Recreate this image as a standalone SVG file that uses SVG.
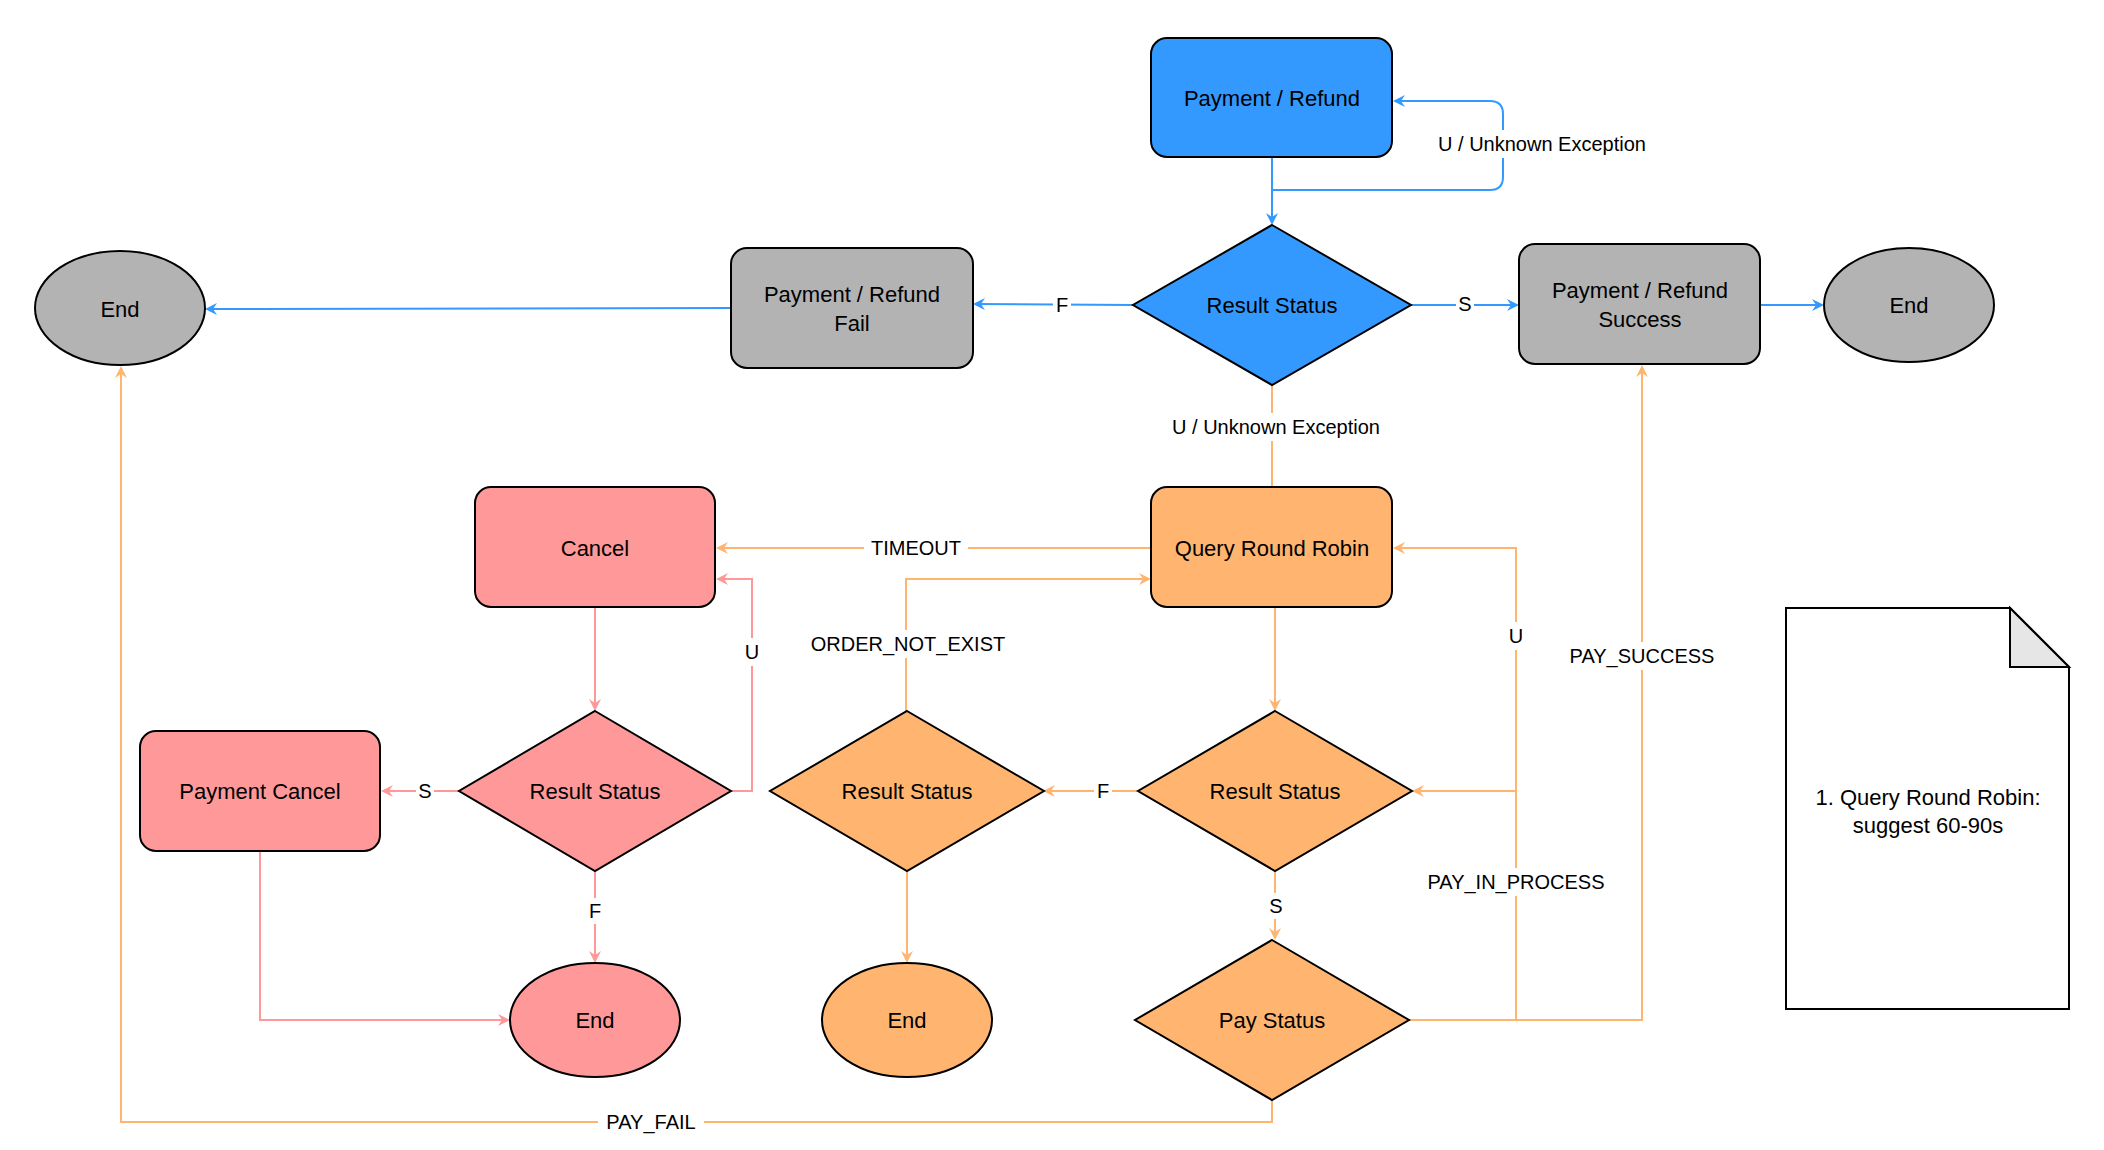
<svg xmlns="http://www.w3.org/2000/svg" width="2104" height="1150" viewBox="0 0 2104 1150">
<defs>
<marker id="ab" markerWidth="12" markerHeight="12" refX="10" refY="6" orient="auto" markerUnits="userSpaceOnUse"><path d="M0,0 L12,6 L0,12 L4,6 Z" fill="#3399FF"/></marker>
<marker id="ao" markerWidth="12" markerHeight="12" refX="10" refY="6" orient="auto" markerUnits="userSpaceOnUse"><path d="M0,0 L12,6 L0,12 L4,6 Z" fill="#FFB570"/></marker>
<marker id="ap" markerWidth="12" markerHeight="12" refX="10" refY="6" orient="auto" markerUnits="userSpaceOnUse"><path d="M0,0 L12,6 L0,12 L4,6 Z" fill="#FF9999"/></marker>
</defs>
<style>
text{font-family:"Liberation Sans",Arial,sans-serif;font-size:22px;fill:#000;text-anchor:middle;dominant-baseline:central}
.lbl{font-size:20px}
.n{stroke:#000;stroke-width:2}
.b{fill:#3399FF}.g{fill:#B3B3B3}.o{fill:#FFB570}.p{fill:#FF9999}
.lb{fill:none;stroke:#3399FF;stroke-width:2;marker-end:url(#ab)}
.lo{fill:none;stroke:#FFB570;stroke-width:2;marker-end:url(#ao)}
.lp{fill:none;stroke:#FF9999;stroke-width:2;marker-end:url(#ap)}
.bg{fill:#fff}
</style>
<rect width="2104" height="1150" fill="#fff"/>
<g id="connectors">
<path class="lb" d="M1272,157 V223"/>
<path class="lb" d="M1272,190 H1490 Q1503,190 1503,177 V114 Q1503,101 1490,101 H1395"/>
<path class="lb" d="M1133,305 L975,304"/>
<path class="lb" d="M1411,305 L1517,305"/>
<path class="lb" d="M731,308 L207,309"/>
<path class="lb" d="M1760,305 L1822,305"/>
<path class="lo" style="marker-end:none" d="M1272,385 V487"/>
<path class="lo" d="M1151,548 H718"/>
<path class="lo" d="M906,711 V579 H1149"/>
<path class="lo" d="M1275,607 V709"/>
<path class="lo" d="M1137,791 H1045"/>
<path class="lo" d="M1275,871 V938"/>
<path class="lo" d="M907,871 V961"/>
<path class="lo" d="M1409,1020 H1516 V548 H1395"/>
<path class="lo" d="M1516,791 H1414"/>
<path class="lo" d="M1516,1020 H1642 V367"/>
<path class="lo" d="M1272,1100 V1122 H121 V368"/>
<path class="lp" d="M595,607 V709"/>
<path class="lp" d="M731,791 H752 V579 H718"/>
<path class="lp" d="M459,791 H383"/>
<path class="lp" d="M595,871 V961"/>
<path class="lp" d="M260,851 V1020 H508"/>
<rect class="bg" x="1422" y="130" width="240" height="28"/><text class="lbl" x="1542" y="144">U / Unknown Exception</text>
<rect class="bg" x="1053" y="292" width="18" height="26"/><text class="lbl" x="1062" y="305">F</text>
<rect class="bg" x="1456" y="292" width="18" height="26"/><text class="lbl" x="1465" y="304">S</text>
<rect class="bg" x="1156" y="413" width="240" height="28"/><text class="lbl" x="1276" y="427">U / Unknown Exception</text>
<rect class="bg" x="864" y="535" width="104" height="26"/><text class="lbl" x="916" y="548">TIMEOUT</text>
<rect class="bg" x="796" y="630" width="224" height="28"/><text class="lbl" x="908" y="644">ORDER_NOT_EXIST</text>
<rect class="bg" x="1094" y="778" width="18" height="26"/><text class="lbl" x="1103" y="791">F</text>
<rect class="bg" x="1267" y="893" width="18" height="26"/><text class="lbl" x="1276" y="906">S</text>
<rect class="bg" x="1506" y="622" width="20" height="28"/><text class="lbl" x="1516" y="636">U</text>
<rect class="bg" x="1418" y="868" width="196" height="28"/><text class="lbl" x="1516" y="882">PAY_IN_PROCESS</text>
<rect class="bg" x="1560" y="642" width="164" height="28"/><text class="lbl" x="1642" y="656">PAY_SUCCESS</text>
<rect class="bg" x="598" y="1109" width="106" height="26"/><text class="lbl" x="651" y="1122">PAY_FAIL</text>
<rect class="bg" x="742" y="638" width="20" height="28"/><text class="lbl" x="752" y="652">U</text>
<rect class="bg" x="416" y="778" width="18" height="26"/><text class="lbl" x="425" y="791">S</text>
<rect class="bg" x="586" y="898" width="18" height="26"/><text class="lbl" x="595" y="911">F</text>
</g>
<g id="pay-refund"><rect class="n b" x="1151" y="38" width="241" height="119" rx="16"/><text x="1272" y="98">Payment / Refund</text></g>
<g id="rs-blue"><polygon class="n b" points="1272,225 1411,305 1272,385 1133,305"/><text x="1272" y="305">Result Status</text></g>
<g id="pr-fail"><rect class="n g" x="731" y="248" width="242" height="120" rx="16"/><text x="852" y="294">Payment / Refund</text><text x="852" y="323">Fail</text></g>
<g id="end-left"><ellipse class="n g" cx="120" cy="308" rx="85" ry="57"/><text x="120" y="309">End</text></g>
<g id="pr-success"><rect class="n g" x="1519" y="244" width="241" height="120" rx="16"/><text x="1640" y="290">Payment / Refund</text><text x="1640" y="319">Success</text></g>
<g id="end-right"><ellipse class="n g" cx="1909" cy="305" rx="85" ry="57"/><text x="1909" y="305">End</text></g>
<g id="qrr"><rect class="n o" x="1151" y="487" width="241" height="120" rx="16"/><text x="1272" y="548">Query Round Robin</text></g>
<g id="cancel"><rect class="n p" x="475" y="487" width="240" height="120" rx="16"/><text x="595" y="548">Cancel</text></g>
<g id="rs-pink"><polygon class="n p" points="595,711 731,791 595,871 459,791"/><text x="595" y="791">Result Status</text></g>
<g id="pay-cancel"><rect class="n p" x="140" y="731" width="240" height="120" rx="16"/><text x="260" y="791">Payment Cancel</text></g>
<g id="end-pink"><ellipse class="n p" cx="595" cy="1020" rx="85" ry="57"/><text x="595" y="1020">End</text></g>
<g id="rs-orange-mid"><polygon class="n o" points="907,711 1044,791 907,871 770,791"/><text x="907" y="791">Result Status</text></g>
<g id="end-orange"><ellipse class="n o" cx="907" cy="1020" rx="85" ry="57"/><text x="907" y="1020">End</text></g>
<g id="rs-orange-right"><polygon class="n o" points="1275,711 1412,791 1275,871 1138,791"/><text x="1275" y="791">Result Status</text></g>
<g id="pay-status"><polygon class="n o" points="1272,940 1409,1020 1272,1100 1135,1020"/><text x="1272" y="1020">Pay Status</text></g>
<g id="note"><path d="M1786,608 H2010 L2069,667 V1009 H1786 Z" fill="#fff" stroke="#000" stroke-width="2"/><path d="M2010,608 V667 H2069 Z" fill="#e6e6e6" stroke="#000" stroke-width="2"/><text x="1928" y="797">1. Query Round Robin:</text><text x="1928" y="825">suggest 60-90s</text></g>
</svg>
